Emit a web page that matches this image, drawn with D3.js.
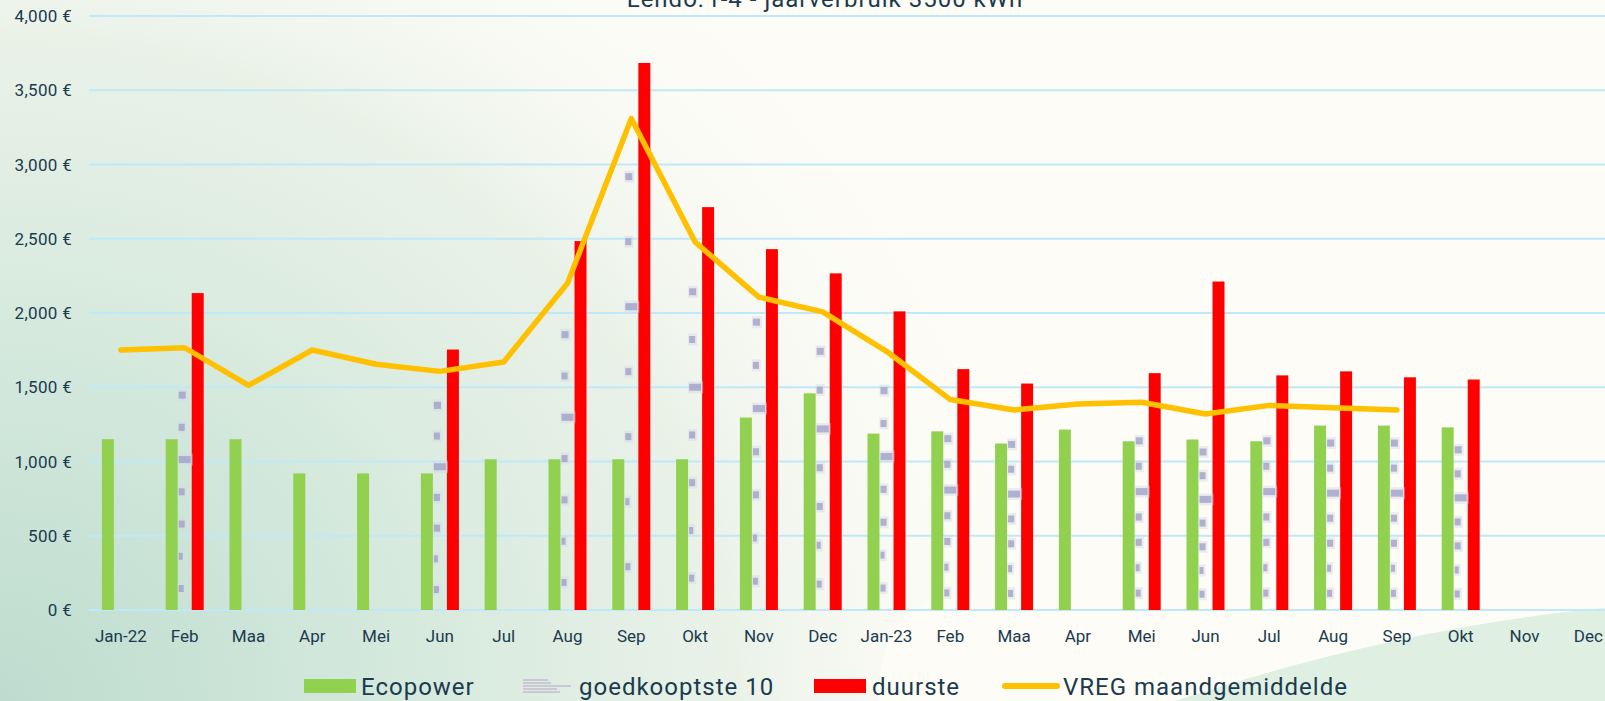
<!DOCTYPE html>
<html><head><meta charset="utf-8">
<script src="https://cdn.jsdelivr.net/npm/d3@7/dist/d3.min.js"></script>
<style>
html,body{margin:0;padding:0;background:#fdfcf7;}
svg{display:block;}
text{font-family:Roboto,"Noto Sans",sans-serif;fill:#1b3a4e;}
</style></head>
<body>
<svg id="chart" width="1605" height="701"></svg>
<script>
// ---- data ----
const categories = ["Jan-22","Feb","Maa","Apr","Mei","Jun","Jul","Aug","Sep","Okt","Nov","Dec",
                    "Jan-23","Feb","Maa","Apr","Mei","Jun","Jul","Aug","Sep","Okt","Nov","Dec"];
const ecopower   = [1150,1150,1150,920,920,920,1015,1015,1015,1015,1296,1459,
                    1188,1203,1121,1215,1136,1148,1136,1242,1242,1230,null,null];
const goedkoopste10 = [null,1447,null,null,null,1378,null,1854,2918,2143,1938,1742,
                    1477,1154,1115,null,1139,1064,1139,1124,1124,1079,null,null];
const duurste    = [null,2134,null,null,null,1754,null,2484,3684,2713,2430,2267,
                    2011,1622,1525,null,1595,2212,1580,1607,1567,1552,null,null];
const vregGemiddelde = [1751,1766,1513,1751,1655,1607,1670,2200,3310,2478,2107,2008,
                    1742,1417,1347,1387,1399,1320,1378,1362,1347,null,null,null];
const yTicks = [0,500,1000,1500,2000,2500,3000,3500,4000];
const seriesNames = ["Ecopower","goedkooptste 10","duurste","VREG maandgemiddelde"];
const titleText = "Lendo: r-4 - jaarverbruik 3500 kWh";

// ---- chart ----
const W = 1605, H = 701;
const svg = d3.select("#chart");
const defs = svg.append("defs");

// background
const rg = defs.append("radialGradient").attr("id","bgL")
  .attr("gradientUnits","userSpaceOnUse").attr("cx",0).attr("cy",701).attr("r",1000)
  .attr("gradientTransform","translate(0,701) scale(1.05,0.95) translate(0,-701)");
rg.append("stop").attr("offset",0).attr("stop-color","#bddccf");
rg.append("stop").attr("offset",0.35).attr("stop-color","#d3e8dc");
rg.append("stop").attr("offset",0.7).attr("stop-color","#eaf2e8");
rg.append("stop").attr("offset",1).attr("stop-color","#fdfcf7").attr("stop-opacity",0);
svg.append("rect").attr("width",W).attr("height",H).attr("fill","#fdfcf7");
svg.append("rect").attr("width",W).attr("height",H).attr("fill","url(#bgL)");
const cg = defs.append("linearGradient").attr("id","creamBlob").attr("x1",0).attr("y1",0).attr("x2",0).attr("y2",1);
cg.append("stop").attr("offset",0).attr("stop-color","#fdfcf7").attr("stop-opacity",0);
cg.append("stop").attr("offset",0.25).attr("stop-color","#fdfcf7").attr("stop-opacity",1);
svg.append("path").attr("d","M878,701 C880,650 890,612 940,598 C1000,585 1200,580 1605,580 L1605,701 Z")
  .attr("fill","url(#creamBlob)");
svg.append("path").attr("d","M1175,701 C1300,660 1450,622 1605,608 L1605,701 Z").attr("fill","#dff0e2");

// scales
const x = d3.scaleBand().domain(d3.range(categories.length)).range([89, 89 + 63.8*categories.length]);
const sub = d3.scaleBand().domain([0,1,2]).range([x.bandwidth()/2 - 19, x.bandwidth()/2 + 19]).paddingInner(0.08);
const y = d3.scaleLinear().domain([0,4000]).range([610,16]);

// title (cut off at the top, as in the original)
svg.append("text").attr("x",825).attr("y",7).attr("text-anchor","middle")
  .attr("font-size",24).attr("letter-spacing","1px").text(titleText);

// gridlines
svg.append("g").selectAll("line").data(yTicks).join("line")
  .attr("x1",89).attr("x2",W).attr("y1",d=>y(d)).attr("y2",d=>y(d))
  .attr("stroke","#bfe9f8").attr("stroke-width",2);

// y labels
svg.append("g").selectAll("text").data(yTicks).join("text")
  .attr("x",72).attr("y",d=>y(d)).attr("dy","0.36em").attr("text-anchor","end")
  .attr("font-size",17).attr("letter-spacing","0.3px")
  .text(d=>d3.format(",")(d)+" €");

// x labels
svg.append("g").selectAll("text").data(categories).join("text")
  .attr("x",(d,i)=>x(i)+x.bandwidth()/2).attr("y",642).attr("text-anchor","middle")
  .attr("font-size",17).text(d=>d);

// bars
const barG = svg.append("g");
barG.selectAll("rect.eco").data(ecopower.map((v,i)=>({v,i})).filter(d=>d.v!=null)).join("rect")
  .attr("class","eco").attr("x",d=>x(d.i)+sub(0)).attr("width",sub.bandwidth())
  .attr("y",d=>y(d.v)).attr("height",d=>y(0)-y(d.v)).attr("fill","#92d050");
barG.selectAll("rect.duur").data(duurste.map((v,i)=>({v,i})).filter(d=>d.v!=null)).join("rect")
  .attr("class","duur").attr("x",d=>x(d.i)+sub(2)).attr("width",sub.bandwidth())
  .attr("y",d=>y(d.v)).attr("height",d=>y(0)-y(d.v)).attr("fill","#ff0000");

// goedkoopste 10 : faint stretched-picture bars, drawn as small marks along the bar
const fracs = [0.1,0.25,0.4,0.55,0.7,0.85,1.0];
const markW = [5,4,6,6,12,6,7];
const marks = [];
goedkoopste10.forEach((v,i)=>{ if(v==null) return;
  fracs.forEach((f,k)=>marks.push({i,v:v*f,k})); });
const mg = svg.append("g");
mg.selectAll("rect.halo").data(marks).join("rect").attr("class","halo")
  .attr("x",d=>x(d.i)+sub(1)-1).attr("width",d=>markW[d.k]+3)
  .attr("y",d=>y(d.v)-6).attr("height",12).attr("fill","#d6d6e6").attr("opacity",0.45);
mg.selectAll("rect.mk").data(marks).join("rect").attr("class","mk")
  .attr("x",d=>x(d.i)+sub(1)).attr("width",d=>markW[d.k])
  .attr("y",d=>y(d.v)-3.5).attr("height",7).attr("fill","#9c9cc6").attr("opacity",0.75);

// VREG line
const line = d3.line().defined(d=>d!=null)
  .x((d,i)=>x(i)+x.bandwidth()/2).y(d=>y(d));
svg.append("path").datum(vregGemiddelde).attr("d",line).attr("fill","none")
  .attr("stroke","#ffc000").attr("stroke-width",5.5).attr("stroke-linejoin","round").attr("stroke-linecap","round");

// legend
const lg = svg.append("g");
lg.append("rect").attr("x",304).attr("y",679).attr("width",52).attr("height",14).attr("fill","#92d050");
[0,3,6,9,12].forEach((o,j)=>lg.append("line").attr("x1",523).attr("x2",j==2?571:548+j*3).attr("y1",680+o).attr("y2",680+o)
  .attr("stroke","#c9c9d6").attr("stroke-width",2));
lg.append("rect").attr("x",814).attr("y",679).attr("width",52).attr("height",14).attr("fill","#ff0000");
lg.append("line").attr("x1",1005).attr("x2",1057).attr("y1",686).attr("y2",686)
  .attr("stroke","#ffc000").attr("stroke-width",6).attr("stroke-linecap","round");
const lx = [361,579,872,1063];
lg.selectAll("text").data(seriesNames).join("text")
  .attr("x",(d,i)=>lx[i]).attr("y",695).attr("font-size",24).attr("letter-spacing","1px").text(d=>d);
</script>
</body></html>
